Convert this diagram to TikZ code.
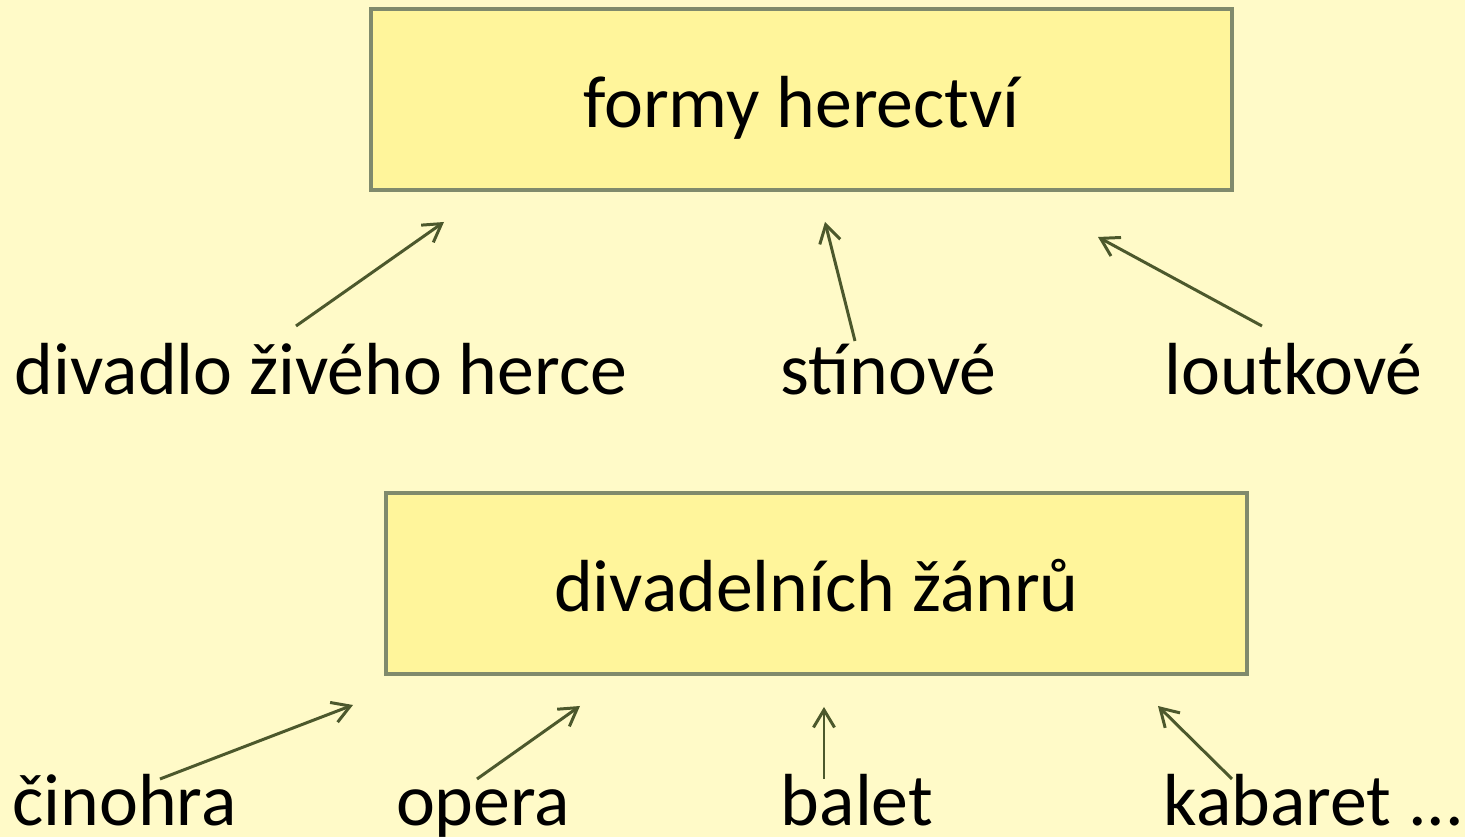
\documentclass[tikz,border=0pt]{standalone}
\usepackage{fontspec}
\setmainfont{Carlito}
\usepackage{tikz}
\usetikzlibrary{arrows.meta,positioning,calc}
\definecolor{pagebg}{RGB}{255,250,200}
\definecolor{boxfill}{RGB}{255,245,155}
\definecolor{boxline}{RGB}{128,138,108}
\definecolor{arrowcol}{RGB}{76,88,44}

\begin{document}
\begin{tikzpicture}[>={Straight Barb[length=5pt,width=6pt]},
  every node/.style={font=\fontsize{21pt}{25pt}\selectfont},
  headbox/.style={draw=boxline,fill=boxfill,line width=0.9pt,inner sep=0pt,
    minimum width=8.61cm,minimum height=1.81cm,text height=16pt,text depth=0pt},
  item/.style={anchor=base,inner sep=0pt},
  pointer/.style={draw=arrowcol,line width=0.85pt,->}]
\fill[pagebg] (0,0) rectangle (14.65,8.37);
\useasboundingbox (0,0) rectangle (14.65,8.37);
% upper group
\node[headbox] (forms) at (8.015,7.375) {formy herectví};
\node[item] (live) at (3.21,4.42) {divadlo živého herce};
\node[item] (shadow) at (8.885,4.42) {stínové};
\node[item] (puppet) at (12.935,4.42) {loutkové};
\coordinate (live-s) at (2.96,5.11);
\coordinate (live-e) at (4.44,6.15);
\coordinate (shadow-s) at (8.55,4.96);
\coordinate (shadow-e) at (8.25,6.15);
\coordinate (puppet-s) at (12.62,5.11);
\coordinate (puppet-e) at (10.98,6.00);
\draw[pointer] (live-s) -- (live-e);
\draw[pointer] (shadow-s) -- (shadow-e);
\draw[pointer] (puppet-s) -- (puppet-e);
% lower group
\node[headbox] (genres) at (8.165,2.535) {divadelních žánrů};
\node[item] (drama) at (1.245,0.11) {činohra};
\node[item] (opera) at (4.83,0.11) {opera};
\node[item] (ballet) at (8.57,0.11) {balet};
\node[item] (cabaret) at (13.14,0.11) {kabaret ...};
\coordinate (drama-s) at (1.60,0.58);
\coordinate (drama-e) at (3.53,1.32);
\coordinate (opera-s) at (4.77,0.58);
\coordinate (opera-e) at (5.80,1.31);
\coordinate (ballet-s) at (8.24,0.58);
\coordinate (ballet-e) at (8.24,1.30);
\coordinate (cabaret-s) at (12.32,0.58);
\coordinate (cabaret-e) at (11.58,1.31);
\draw[pointer] (drama-s) -- (drama-e);
\draw[pointer] (opera-s) -- (opera-e);
\draw[pointer] (ballet-s) -- (ballet-e);
\draw[pointer] (cabaret-s) -- (cabaret-e);
\end{tikzpicture}
\end{document}
